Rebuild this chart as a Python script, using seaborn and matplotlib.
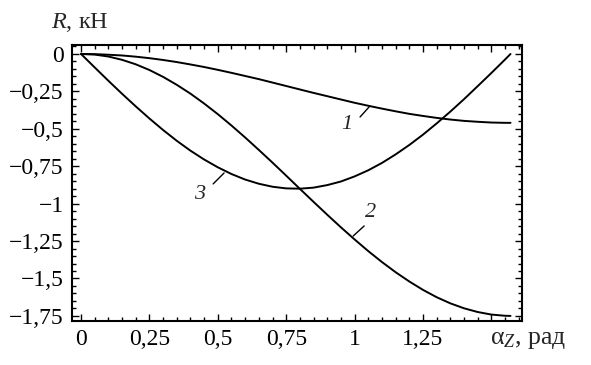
import pandas as pd
import matplotlib.pyplot as plt
import seaborn as sns
from matplotlib.ticker import FixedLocator, MultipleLocator

# angle alpha_Z, rad
alpha_z = [0.0, 0.05, 0.10, 0.15, 0.20, 0.25, 0.30, 0.35, 0.40, 0.45, 0.50,
           0.55, 0.60, 0.65, 0.70, 0.75, 0.80, 0.85, 0.90, 0.95, 1.00,
           1.05, 1.10, 1.15, 1.20, 1.25, 1.30, 1.35, 1.40, 1.45, 1.50,
           1.55, 1.57]

# force R, kN
r_curve1 = [0.0, -0.001, -0.005, -0.010, -0.018, -0.028, -0.040, -0.054, -0.070,
            -0.087, -0.106, -0.126, -0.147, -0.168, -0.191, -0.214, -0.237,
            -0.260, -0.282, -0.304, -0.326, -0.346, -0.365, -0.383, -0.400,
            -0.414, -0.427, -0.438, -0.447, -0.453, -0.458, -0.460, -0.460]
r_curve2 = [0.0, -0.004, -0.017, -0.039, -0.069, -0.107, -0.153, -0.206, -0.265,
            -0.331, -0.402, -0.478, -0.558, -0.641, -0.726, -0.813, -0.901,
            -0.988, -1.074, -1.158, -1.239, -1.317, -1.390, -1.458, -1.520,
            -1.576, -1.625, -1.666, -1.699, -1.724, -1.741, -1.749, -1.750]
r_curve3 = [0.0, -0.090, -0.179, -0.266, -0.350, -0.431, -0.508, -0.580, -0.646,
            -0.705, -0.757, -0.802, -0.839, -0.867, -0.887, -0.898, -0.900,
            -0.893, -0.876, -0.852, -0.818, -0.777, -0.728, -0.671, -0.608,
            -0.539, -0.464, -0.385, -0.302, -0.215, -0.127, -0.037, 0.0]

x_ticks = [0, 0.25, 0.5, 0.75, 1.0, 1.25, 1.5]
x_labels = ["0", "0,25", "0,5", "0,75", "1", "1,25", ""]
y_ticks = [0, -0.25, -0.5, -0.75, -1.0, -1.25, -1.5, -1.75]
y_labels = ["0", "\u22120,25", "\u22120,5", "\u22120,75", "\u22121",
            "\u22121,25", "\u22121,5", "\u22121,75"]

# curve labels: (text, label pos, leader start, leader end)
curve_marks = [
    ("1", (0.973, -0.474), (1.020, -0.421), (1.053, -0.354)),
    ("2", (1.060, -1.062), (0.995, -1.216), (1.035, -1.149)),
    ("3", (0.435, -0.942), (0.483, -0.868), (0.523, -0.795)),
]

sns.set_style("ticks")
plt.rcParams["font.family"] = ["Liberation Serif", "DejaVu Serif"]
plt.rcParams["mathtext.fontset"] = "custom"
plt.rcParams["mathtext.rm"] = "Liberation Serif"
plt.rcParams["mathtext.it"] = "Liberation Serif:italic"

df = pd.DataFrame({
    "alpha": alpha_z * 3,
    "R": r_curve1 + r_curve2 + r_curve3,
    "curve": ["1"] * len(alpha_z) + ["2"] * len(alpha_z) + ["3"] * len(alpha_z),
})

fig = plt.figure(figsize=(5.91, 3.65), dpi=100)
ax = fig.add_axes([72 / 591, 1 - 321 / 365, 450 / 591, 276 / 365])

sns.lineplot(data=df, x="alpha", y="R", hue="curve",
             palette={"1": "black", "2": "black", "3": "black"},
             linewidth=1.4, legend=False, ax=ax)

ax.set_xlim(-0.033, 1.612)
ax.set_ylim(-1.784, 0.06)
ax.set_xlabel("")
ax.set_ylabel("")

ax.xaxis.set_major_locator(FixedLocator(x_ticks))
ax.set_xticklabels(x_labels)
ax.yaxis.set_major_locator(FixedLocator(y_ticks))
ax.set_yticklabels(y_labels)
ax.xaxis.set_minor_locator(MultipleLocator(0.05))
ax.yaxis.set_minor_locator(MultipleLocator(0.05))

ax.tick_params(which="both", direction="in", top=True, right=True,
               width=1, labelsize=17, colors="black")
ax.tick_params(which="major", length=5)
ax.tick_params(which="minor", length=3)
ax.tick_params(axis="x", which="major", pad=6)
ax.tick_params(axis="y", which="major", pad=6)
for s in ax.spines.values():
    s.set_linewidth(1.5)
    s.set_color("black")

for txt, pos, p0, p1 in curve_marks:
    ax.plot([p0[0], p1[0]], [p0[1], p1[1]], color="black", linewidth=1)
    ax.text(pos[0], pos[1], txt, fontsize=16, style="italic",
            ha="center", va="center")

fig.text(80 / 591, 1 - 22 / 365, "$R$, кН", fontsize=17.5,
         ha="center", va="center")
fig.text(528 / 591, 1 - 340 / 365, r"$\mathrm{\alpha}_{\mathit{Z}}$, рад",
         fontsize=18.5, ha="center", va="center")

fig.savefig("out.png", dpi=100)
